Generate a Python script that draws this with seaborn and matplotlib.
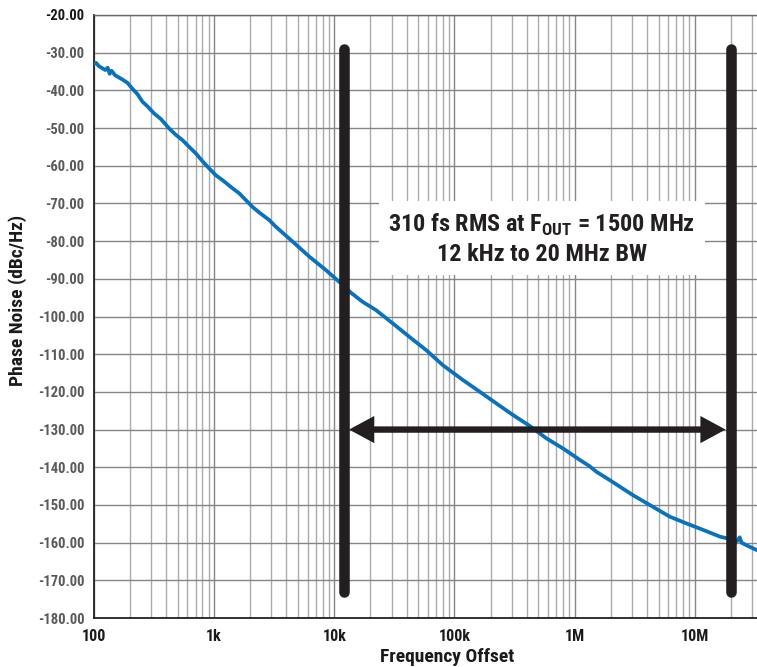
import matplotlib
matplotlib.use("Agg")
import matplotlib.pyplot as plt
from matplotlib import font_manager as fm
from matplotlib.ticker import LogLocator, FixedLocator, FuncFormatter, NullFormatter
import seaborn as sns
import pandas as pd

# Phase-noise trace: offset frequency (Hz) and single-sideband phase noise (dBc/Hz)
freq_hz = [100, 104, 110, 117, 124, 130, 135, 140, 150, 172, 190, 208, 230, 253,
           280, 316, 360, 422, 480, 545, 620, 703, 800, 908, 1040, 1172, 1400,
           1616, 2083, 2371, 2873, 3265, 4494, 6190, 8525, 11730, 13770, 17210,
           22230, 30600, 42170, 58080, 80000, 117000, 161500, 222000, 306000,
           422000, 581000, 800000, 1.10e6, 1.33e6, 1.52e6, 1.96e6, 3.06e6,
           4.22e6, 6.19e6, 8.53e6, 11.7e6, 16.2e6, 20.5e6, 22.5e6, 23.7e6,
           24.5e6, 27e6, 33e6]
phase_noise = [-32.9, -32.7, -33.6, -34.1, -34.6, -34.0, -35.6, -34.8, -36.0, -37.1,
               -38.0, -39.5, -41.0, -43.0, -44.3, -46.1, -47.6, -50.1, -51.8, -53.2,
               -55.0, -56.7, -58.8, -60.7, -62.6, -63.8, -65.8, -67.3, -70.9, -72.4,
               -74.4, -76.2, -80.1, -84.1, -87.7, -91.6, -93.7, -96.1, -98.3, -101.8,
               -105.4, -108.9, -112.9, -116.8, -119.9, -123.0, -126.1, -129.0, -132.3,
               -135.0, -138.0, -139.7, -141.2, -143.4, -147.4, -150.0, -153.1, -154.9,
               -156.6, -158.4, -159.2, -159.6, -158.6, -160.0, -160.7, -162.0]

# Integration band edges (Hz) and the level of the band arrow
band_edges = [12e3, 20e6]
bar_span = [-29.0, -173.0]
arrow_level = -130.0

y_ticks = list(range(-180, -19, 10))
x_major = [1e2, 1e3, 1e4, 1e5, 1e6, 1e7]
x_labels = ["100", "1k", "10k", "100k", "1M", "10M"]

annot_line1 = "310 fs RMS at F$_{\\mathrm{OUT}}$ = 1500 MHz"
annot_line2 = "12 kHz to 20 MHz BW"

sns.set_theme(style="white")

# Pick a narrow sans-serif face when one is installed
installed = fm.fontManager.ttflist
names = {f.name for f in installed}
family = None
for cand in ["Liberation Sans Narrow", "Arial Narrow", "Roboto Condensed",
             "Open Sans Condensed", "Noto Sans Condensed"]:
    if cand in names:
        family = cand
        break
stretch = "normal"
if family is None:
    if any(f.name == "DejaVu Sans" and "Condensed" in f.fname for f in installed):
        family, stretch = "DejaVu Sans", "condensed"
    elif "Liberation Sans" in names:
        family = "Liberation Sans"
    else:
        family = "DejaVu Sans"

plt.rcParams["font.family"] = [family, "DejaVu Sans"]
plt.rcParams["font.stretch"] = stretch
plt.rcParams["font.weight"] = "bold"
plt.rcParams["mathtext.fontset"] = "custom"
plt.rcParams["mathtext.rm"] = f"{family}:bold"
plt.rcParams["mathtext.bf"] = f"{family}:bold"

W, H = 757, 667
fig = plt.figure(figsize=(W / 100, H / 100), dpi=100)
ax = fig.add_axes([94 / W, 1 - 618 / H, 1 - 94 / W, (618 - 15) / H])

df = pd.DataFrame({"freq": freq_hz, "pn": phase_noise})
sns.lineplot(data=df, x="freq", y="pn", ax=ax, color="#0A72BA", lw=2.7, zorder=3)

ax.set_xscale("log")
ax.set_xlim(100, 3.3e7)
ax.set_ylim(-180, -20)

# Grid
ax.xaxis.set_major_locator(FixedLocator(x_major))
ax.xaxis.set_major_formatter(FuncFormatter(lambda v, p: x_labels[x_major.index(v)] if v in x_major else ""))
ax.xaxis.set_minor_locator(LogLocator(base=10, subs=range(2, 10), numticks=20))
ax.xaxis.set_minor_formatter(NullFormatter())
ax.yaxis.set_major_locator(FixedLocator(y_ticks))
ax.yaxis.set_major_formatter(FuncFormatter(lambda v, p: f"{v:.2f}"))
ax.grid(True, which="major", axis="both", color="#858585", lw=1.0, zorder=0)
ax.grid(True, which="minor", axis="x", color="#ababab", lw=1.0, zorder=0)
ax.set_axisbelow(True)

for s in ["left", "bottom"]:
    ax.spines[s].set_color("#222222")
    ax.spines[s].set_linewidth(1.3)
ax.spines["top"].set_color("#666666")
ax.spines["top"].set_linewidth(1.0)
ax.spines["right"].set_visible(False)

ax.tick_params(axis="both", which="both", length=0)
ax.tick_params(axis="y", pad=7, labelsize=10.5, labelcolor="#5a5a5a")
ax.tick_params(axis="x", pad=8, labelsize=11.5, labelcolor="#1a1a1a")
for lbl in ax.get_yticklabels():
    lbl.set_fontweight("bold")
    if lbl.get_text() == "-20.00":
        lbl.set_color("#1a1a1a")
for lbl in ax.get_xticklabels():
    lbl.set_fontweight("bold")

ax.set_xlabel("Frequency Offset", fontsize=14, fontweight="bold", color="#1a1a1a")
ax.set_ylabel("Phase Noise (dBc/Hz)", fontsize=14, fontweight="bold", color="#1a1a1a")
ax.xaxis.set_label_coords((447 - 94) / (W - 94), -(648 - 618) / (618 - 15))
ax.yaxis.set_label_coords(-(94 - 27) / (W - 94), (618 - 300) / (618 - 15))

# Band-edge bars
bar_color = "#231F20"
for f in band_edges:
    ax.plot([f, f], bar_span, color=bar_color, lw=7.6, solid_capstyle="round", zorder=5)

# Double-headed arrow between the bars
ax.annotate("", xy=(band_edges[1], arrow_level), xytext=(band_edges[0], arrow_level),
            arrowprops=dict(arrowstyle="<|-|>,head_length=0.5,head_width=0.27",
                            mutation_scale=22, lw=4.6, color=bar_color,
                            shrinkA=3.8, shrinkB=3.8, joinstyle="miter", capstyle="butt"),
            zorder=6)

# Jitter annotation
tx = 10 ** (2 + (542 - 94) / 120.2)
ax.text(tx, -79.4, annot_line1 + "\n" + annot_line2, ha="center", va="center",
        fontsize=17.5, fontweight="bold", color="#231F20", linespacing=1.25, zorder=4,
        bbox=dict(boxstyle="square,pad=0.4", fc="white", ec="none"))

fig.savefig("out.png", dpi=100)
